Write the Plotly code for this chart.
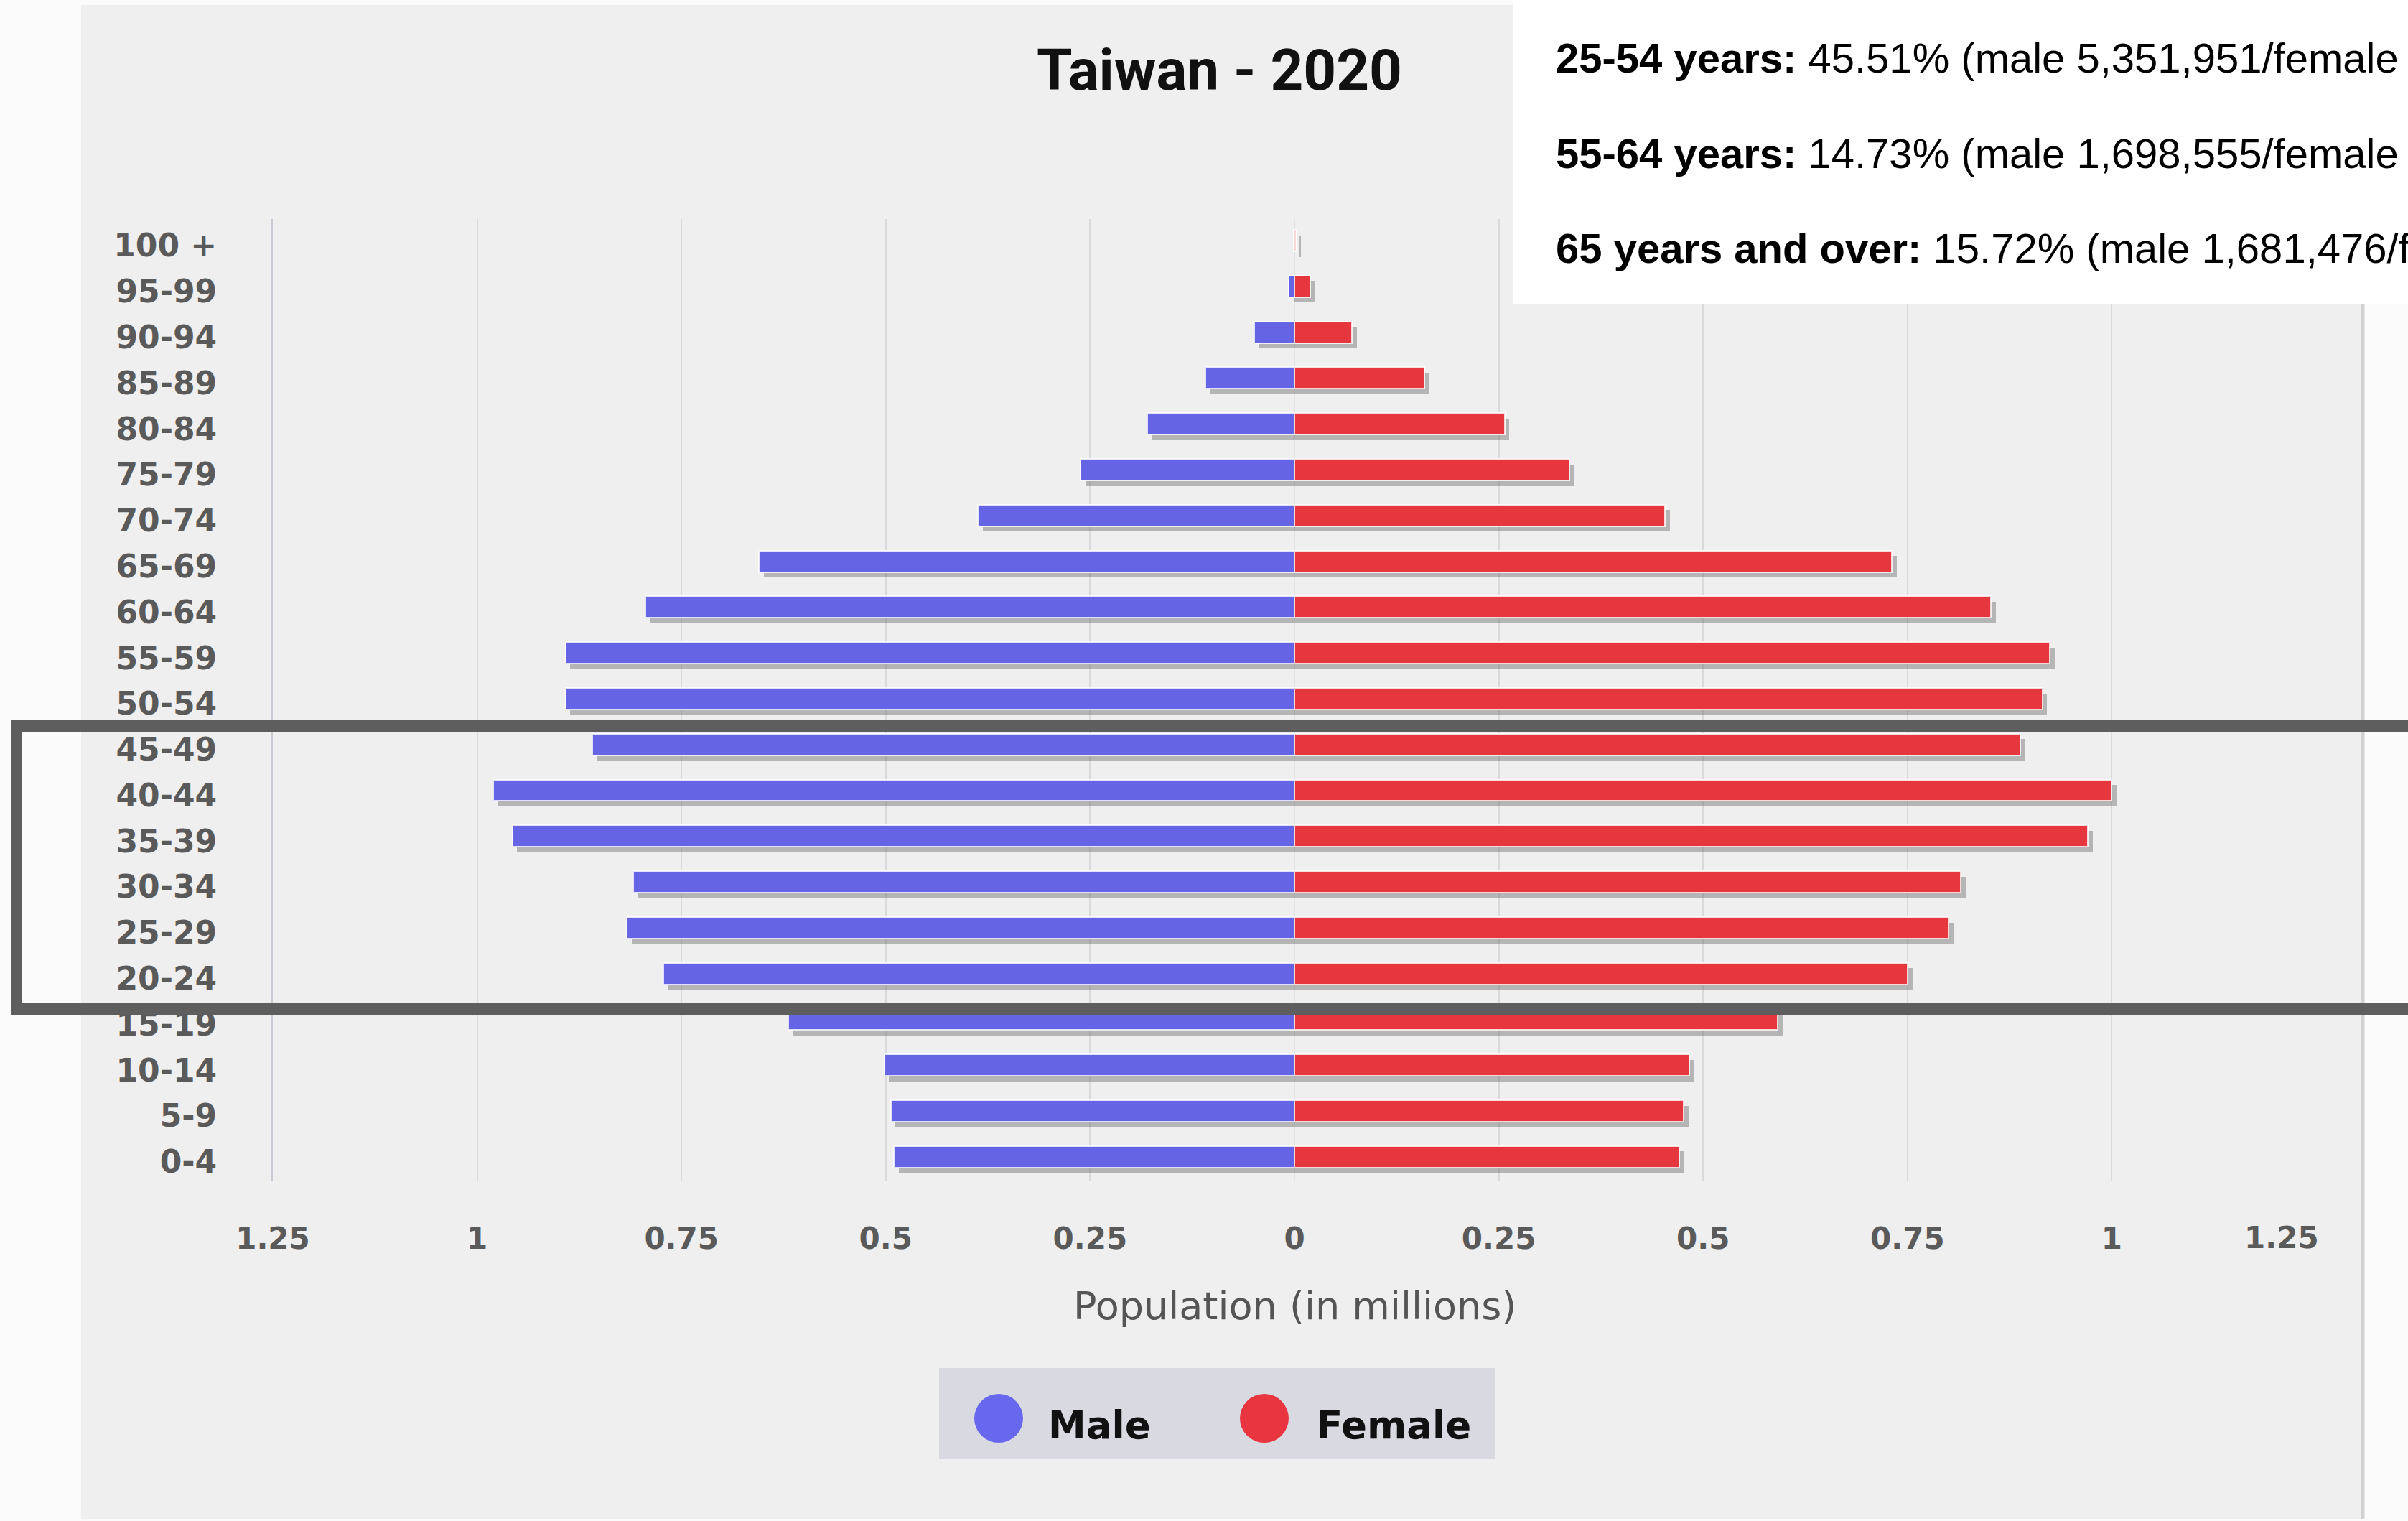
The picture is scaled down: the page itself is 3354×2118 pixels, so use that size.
import plotly.graph_objects as go

# Age groups, youngest first (bottom of the pyramid)
age_groups = ["0-4", "5-9", "10-14", "15-19", "20-24", "25-29", "30-34", "35-39",
              "40-44", "45-49", "50-54", "55-59", "60-64", "65-69", "70-74", "75-79",
              "80-84", "85-89", "90-94", "95-99", "100 +"]

# Population in millions
male = [0.490, 0.494, 0.502, 0.619, 0.772, 0.817, 0.809, 0.957, 0.980, 0.859,
        0.892, 0.892, 0.794, 0.655, 0.387, 0.262, 0.180, 0.109, 0.049, 0.007, 0.001]
female = [0.471, 0.476, 0.483, 0.591, 0.750, 0.800, 0.815, 0.971, 1.000, 0.888,
          0.915, 0.924, 0.852, 0.731, 0.453, 0.336, 0.257, 0.159, 0.070, 0.019, 0.002]

x_ticks = [-1.25, -1, -0.75, -0.5, -0.25, 0, 0.25, 0.5, 0.75, 1, 1.25]
x_tick_text = ["1.25", "1", "0.75", "0.5", "0.25", "0", "0.25", "0.5", "0.75", "1", "1.25"]

title_text = "Taiwan - 2020"
axis_title = "Population (in millions)"
series_names = ["Male", "Female"]
info_lines = [
    "<b>25-54 years:</b> 45.51% (male 5,351,951/female",
    "<b>55-64 years:</b> 14.73% (male 1,698,555/female",
    "<b>65 years and over:</b> 15.72% (male 1,681,476/female",
]

W, H = 3354, 2118
ML, MR, MT, MB = 380, 128, 305, 474
PW, PH = W - ML - MR, H - MT - MB

MALE_C = "#6464e4"
FEMALE_C = "#e6373f"
TICK_FONT = "DejaVu Sans"
TICK_COLOR = "#5a5a5a"


def px_x(p):
    return (p - ML) / PW


def px_y(p):
    return (H - MB - p) / PH


pos = list(range(len(age_groups)))
bar_w = 0.47
shadow_dx = 0.006

fig = go.Figure()

# soft drop shadows beneath the bars
for vals, sign in ((male, -1), (female, 1)):
    fig.add_trace(go.Bar(
        y=pos, x=[sign * v for v in vals], base=shadow_dx, orientation="h",
        width=bar_w, offset=-bar_w / 2 - 0.12,
        marker=dict(color="rgba(95,95,95,0.40)", line=dict(width=0)),
        showlegend=False, hoverinfo="skip",
    ))

fig.add_trace(go.Bar(
    y=pos, x=[-v for v in male], orientation="h", name=series_names[0],
    width=bar_w, offset=-bar_w / 2,
    marker=dict(color=MALE_C, line=dict(color="rgba(255,255,255,0.8)", width=2)),
    customdata=male, hovertemplate="%{customdata:.3f}M<extra>Male</extra>",
    showlegend=False,
))
fig.add_trace(go.Bar(
    y=pos, x=female, orientation="h", name=series_names[1],
    width=bar_w, offset=-bar_w / 2,
    marker=dict(color=FEMALE_C, line=dict(color="rgba(255,255,255,0.8)", width=2)),
    hovertemplate="%{x:.3f}M<extra>Female</extra>",
    showlegend=False,
))

shapes = [
    # chart panel
    dict(type="rect", xref="paper", yref="paper", layer="below",
         x0=px_x(113), x1=px_x(3290), y0=px_y(2115), y1=px_y(7),
         fillcolor="#efefef", line=dict(width=0)),
    dict(type="line", xref="paper", yref="paper", layer="below",
         x0=px_x(3291), x1=px_x(3291), y0=px_y(2115), y1=px_y(420),
         line=dict(color="#d2d2d2", width=5)),
    # legend box
    dict(type="rect", xref="paper", yref="paper", layer="above",
         x0=px_x(1308), x1=px_x(2083), y0=px_y(2032), y1=px_y(1905),
         fillcolor="#d9d9e1", line=dict(width=0)),
    dict(type="circle", xref="paper", yref="paper", layer="above",
         x0=px_x(1391 - 34), x1=px_x(1391 + 34), y0=px_y(1975 + 34), y1=px_y(1975 - 34),
         fillcolor="#6868ee", line=dict(width=0)),
    dict(type="circle", xref="paper", yref="paper", layer="above",
         x0=px_x(1761 - 34), x1=px_x(1761 + 34), y0=px_y(1975 + 34), y1=px_y(1975 - 34),
         fillcolor="#e8353f", line=dict(width=0)),
    # info box
    dict(type="rect", xref="paper", yref="paper", layer="above",
         x0=px_x(2107), x1=px_x(3400), y0=px_y(424), y1=px_y(-20),
         fillcolor="#ffffff", line=dict(width=0)),
    # highlight frame
    dict(type="rect", xref="paper", yref="paper", layer="above",
         x0=px_x(23), x1=px_x(3420), y0=px_y(1405), y1=px_y(1011),
         fillcolor="rgba(0,0,0,0)", line=dict(color="#5e5e5e", width=16)),
]

annotations = [
    dict(text=f"<b>{title_text}</b>", xref="paper", yref="paper",
         x=px_x(1698), y=px_y(98), xanchor="center", yanchor="middle", showarrow=False,
         font=dict(family="Roboto", size=80, color="#111111")),
    dict(text=axis_title, xref="x", yref="paper", x=0, y=px_y(1818),
         xanchor="center", yanchor="middle", showarrow=False,
         font=dict(family=TICK_FONT, size=54, color="#555555")),
    dict(text=f"<b>{series_names[0]}</b>", xref="paper", yref="paper",
         x=px_x(1458), y=px_y(1984), xanchor="left", yanchor="middle", showarrow=False,
         font=dict(family=TICK_FONT, size=53, color="#111111")),
    dict(text=f"<b>{series_names[1]}</b>", xref="paper", yref="paper",
         x=px_x(1832), y=px_y(1984), xanchor="left", yanchor="middle", showarrow=False,
         font=dict(family=TICK_FONT, size=53, color="#111111")),
    # outermost right tick label sits inside the panel edge
    dict(text=f"<b>{x_tick_text[-1]}</b>", xref="x", yref="paper",
         x=x_ticks[-1], y=px_y(1723), xshift=-48,
         xanchor="center", yanchor="middle", showarrow=False,
         font=dict(family=TICK_FONT, size=42, color=TICK_COLOR)),
]
for line, cy in zip(info_lines, (80, 213, 345)):
    annotations.append(dict(
        text=line, xref="paper", yref="paper", x=px_x(2165), y=px_y(cy),
        xanchor="left", yanchor="middle", showarrow=False,
        font=dict(family="Liberation Sans", size=58, color="#000000")))

axis_tick_text = [f"<b>{t}</b>" for t in x_tick_text[:-1]] + [""]

fig.update_layout(
    width=W, height=H,
    margin=dict(l=ML, r=MR, t=MT, b=MB, pad=0),
    paper_bgcolor="#fbfbfb", plot_bgcolor="rgba(0,0,0,0)",
    barmode="overlay", bargap=0,
    shapes=shapes, annotations=annotations,
    showlegend=False,
    xaxis=dict(
        range=[-1.25, 1.25], tickmode="array", tickvals=x_ticks, ticktext=axis_tick_text,
        showgrid=True, gridcolor="#dadada", gridwidth=2,
        zeroline=True, zerolinecolor="#e2e2e2", zerolinewidth=2,
        showline=False, ticks="", ticklabelstandoff=52,
        tickfont=dict(family=TICK_FONT, size=42, color=TICK_COLOR),
        fixedrange=True,
    ),
    yaxis=dict(
        range=[-0.52, 20.47], tickmode="array", tickvals=pos,
        ticktext=[f"<b>{a}</b>" for a in age_groups],
        showgrid=False, zeroline=False,
        showline=True, linecolor="#c9c9d3", linewidth=3,
        ticks="", ticklabelstandoff=66, ticklabelshift=7,
        tickfont=dict(family=TICK_FONT, size=44, color=TICK_COLOR),
        fixedrange=True,
    ),
)

fig.write_html("out.html")
